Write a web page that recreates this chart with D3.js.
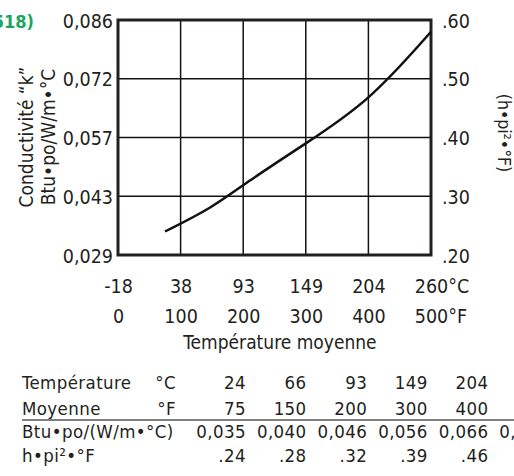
<!DOCTYPE html>
<html>
<head>
<meta charset="utf-8">
<script src="https://cdn.jsdelivr.net/npm/d3@7"></script>
<style>
  body { margin: 0; background: #fff; }
  svg { display: block; }
  text { font-family: "DejaVu Sans Condensed", "DejaVu Sans", sans-serif; font-stretch: condensed; fill: #231f20; }
</style>
</head>
<body>
<div id="chart"></div>
<script>
// conductivity curve, imperial units (h.ft2.F) vs mean temp in F
var tempF = [75, 150, 200, 300, 400, 500];
var tempC = [24, 66, 93, 149, 204, 260];
var kImp = [0.24, 0.28, 0.32, 0.39, 0.46, 0.58];
var kSI = ["0,035", "0,040", "0,046", "0,056", "0,066", "0,083"];
var kImpLabels = [".24", ".28", ".32", ".39", ".46", ".58"];

// axis ticks
var xTicksF = [0, 100, 200, 300, 400, 500];
var xTicksC = ["-18", "38", "93", "149", "204", "260"];
var yTicks = [0.2, 0.3, 0.4, 0.5, 0.6];
var yLabelsLeft = ["0,029", "0,043", "0,057", "0,072", "0,086"];
var yLabelsRight = [".20", ".30", ".40", ".50", ".60"];

var W = 514, H = 476;
var mLeft = 118, mTop = 20, pw = 313, ph = 235;

var svg = d3.select("#chart").append("svg")
  .attr("width", W)
  .attr("height", H);

var x = d3.scaleLinear().domain([0, 500]).range([mLeft, mLeft + pw]);
var y = d3.scaleLinear().domain([0.2, 0.6]).range([mTop + ph, mTop]);

// grid
svg.append("g").selectAll("line")
  .data(xTicksF.slice(1, -1))
  .enter().append("line")
  .attr("x1", d => x(d)).attr("x2", d => x(d))
  .attr("y1", mTop).attr("y2", mTop + ph)
  .attr("stroke", "#111").attr("stroke-width", 1.5);

svg.append("g").selectAll("line")
  .data(yTicks.slice(1, -1))
  .enter().append("line")
  .attr("x1", mLeft).attr("x2", mLeft + pw)
  .attr("y1", d => y(d)).attr("y2", d => y(d))
  .attr("stroke", "#111").attr("stroke-width", 1.5);

// frame
svg.append("rect")
  .attr("x", mLeft).attr("y", mTop)
  .attr("width", pw).attr("height", ph)
  .attr("fill", "none")
  .attr("stroke", "#231f20")
  .attr("stroke-width", 3);

// curve
var line = d3.line()
  .x((d, i) => x(tempF[i]))
  .y(d => y(d))
  .curve(d3.curveBasis);

svg.append("path")
  .datum(kImp)
  .attr("d", line)
  .attr("fill", "none")
  .attr("stroke", "#111")
  .attr("stroke-width", 2.5);

// left axis
var gl = svg.append("g")
  .attr("transform", "translate(" + mLeft + ",0)")
  .call(d3.axisLeft(y).tickValues(yTicks).tickSize(0).tickPadding(5)
    .tickFormat((d, i) => yLabelsLeft[i]));
gl.select(".domain").remove();
gl.selectAll("text").attr("font-size", 19.5).attr("fill", "#231f20")
  .attr("font-family", null).attr("dy", "0.36em");

// right axis
var gr = svg.append("g")
  .attr("transform", "translate(" + (mLeft + pw) + ",0)")
  .call(d3.axisRight(y).tickValues(yTicks).tickSize(0).tickPadding(11)
    .tickFormat((d, i) => yLabelsRight[i]));
gr.select(".domain").remove();
gr.selectAll("text").attr("font-size", 19.5).attr("fill", "#231f20")
  .attr("font-family", null).attr("dy", "0.36em");

// bottom axes: Celsius row and Fahrenheit row
function bottomRow(labels, baseline, unit) {
  var g = svg.append("g")
    .attr("transform", "translate(0," + (mTop + ph) + ")")
    .call(d3.axisBottom(x).tickValues(xTicksF).tickSize(0)
      .tickFormat((d, i) => labels[i]));
  g.select(".domain").remove();
  g.selectAll("text")
    .attr("font-size", 19.5).attr("fill", "#231f20").attr("font-family", null)
    .attr("y", baseline - (mTop + ph)).attr("dy", 0);
  var last = g.selectAll("text").filter((d, i) => i === xTicksF.length - 1);
  var wNum = last.node().getComputedTextLength();
  last.attr("text-anchor", "start").attr("x", -wNum / 2);
  last.append("tspan").text(unit);
}
bottomRow(xTicksC, 293, "°C");
bottomRow(xTicksF.map(String), 323, "°F");

svg.append("text")
  .attr("x", 280).attr("y", 349)
  .attr("text-anchor", "middle")
  .attr("font-size", 19)
  .text("Température moyenne");

// y titles
svg.append("text")
  .attr("transform", "translate(33,137) rotate(-90)")
  .attr("text-anchor", "middle")
  .attr("font-size", 19)
  .text("Conductivité \u201Ck\u201D");
svg.append("text")
  .attr("transform", "translate(55,137) rotate(-90)")
  .attr("text-anchor", "middle")
  .attr("font-size", 19)
  .text("Btu•po/W/m•°C");
svg.append("text")
  .attr("transform", "translate(498,133) rotate(90)")
  .attr("text-anchor", "middle")
  .attr("font-size", 17.5)
  .text("(h•pi²•°F)");

// figure ref (cut off at left edge)
svg.append("text")
  .attr("x", 34).attr("y", 28)
  .attr("text-anchor", "end")
  .attr("font-size", 18)
  .attr("font-weight", "bold")
  .style("fill", "#1aa661")
  .text("(Fig. 518)");

// table
var col = d3.scaleLinear().domain([0, 5]).range([246, 549]);
var rows = [
  {label: "Température", unit: "°C", vals: tempC.map(String), yb: 389},
  {label: "Moyenne", unit: "°F", vals: tempF.map(String), yb: 415},
  {label: "Btu•po/(W/m•°C)", unit: "", vals: kSI, yb: 438},
  {label: "h•pi²•°F", unit: "", vals: kImpLabels, yb: 462}
];

var tg = svg.append("g").attr("font-size", 18.5).attr("letter-spacing", 0.4);
rows.forEach(function(r) {
  tg.append("text").attr("x", 22).attr("y", r.yb).text(r.label);
  if (r.unit) {
    tg.append("text").attr("x", 176).attr("y", r.yb)
      .attr("text-anchor", "end").text(r.unit);
  }
  tg.selectAll(null)
    .data(r.vals)
    .enter().append("text")
    .attr("x", (d, i) => col(i))
    .attr("y", r.yb)
    .attr("text-anchor", "end")
    .text(d => d);
});

svg.append("line")
  .attr("x1", 22).attr("x2", W)
  .attr("y1", 420).attr("y2", 420)
  .attr("stroke", "#555").attr("stroke-width", 1.5);
</script>
</body>
</html>
